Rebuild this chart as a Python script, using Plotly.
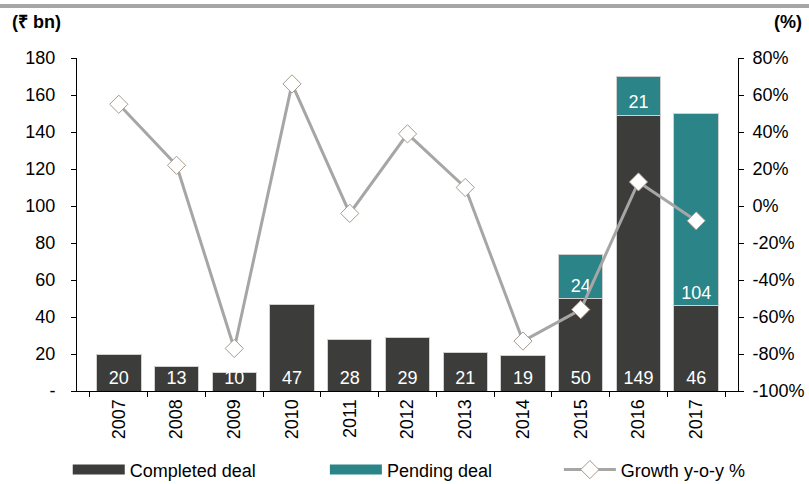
import plotly.graph_objects as go

years = ["2007", "2008", "2009", "2010", "2011", "2012", "2013", "2014", "2015", "2016", "2017"]
completed = [20, 13, 10, 47, 28, 29, 21, 19, 50, 149, 46]
pending = [None, None, None, None, None, None, None, None, 24, 21, 104]
growth = [55, 22, -77, 66, -4, 39, 10, -73, -56, 13, -8]

left_ticks = [0, 20, 40, 60, 80, 100, 120, 140, 160, 180]
left_labels = ["-"] + [str(v) for v in left_ticks[1:]]
right_ticks = [-100, -80, -60, -40, -20, 0, 20, 40, 60, 80]
right_labels = [f"{v}%" for v in right_ticks]

DARK = "#3C3C3B"
TEAL = "#2A8488"
LINE = "#A6A6A6"
FONT = "Liberation Sans, Arial, sans-serif"

fig = go.Figure()
fig.add_trace(go.Bar(
    x=years, y=completed, name="Completed deal", marker_color=DARK,
    marker_line=dict(color="#D0D0D0", width=1),
    text=[str(v) for v in completed], textposition="inside",
    insidetextanchor="start", textangle=0, constraintext="none",
    textfont=dict(color="white", size=18), showlegend=False,
))
fig.add_trace(go.Bar(
    x=years, y=pending, name="Pending deal", marker_color=TEAL,
    marker_line=dict(color="#D0D0D0", width=1),
    text=[str(v) if v else "" for v in pending], textposition="inside",
    insidetextanchor="start", textangle=0, constraintext="none",
    textfont=dict(color="white", size=18), showlegend=False,
))
fig.add_trace(go.Scatter(
    x=years, y=growth, yaxis="y2", name="Growth y-o-y %", mode="lines+markers",
    line=dict(color=LINE, width=3),
    marker=dict(symbol="diamond", size=14, color="white", line=dict(color="#A8998A", width=1)),
    legend="legend3",
))
# legend stand-ins for the bar series (wide rectangle symbols)
fig.add_trace(go.Scatter(x=[None], y=[None], mode="lines", name="Completed deal",
                         line=dict(color=DARK, width=10), legend="legend"))
fig.add_trace(go.Scatter(x=[None], y=[None], mode="lines", name="Pending deal",
                         line=dict(color=TEAL, width=10), legend="legend2"))

leg = dict(orientation="h", yanchor="middle", xanchor="left", y=-0.237,
           font=dict(size=18, color="black"), itemwidth=52,
           bgcolor="rgba(0,0,0,0)")

fig.update_layout(
    width=809, height=484,
    margin=dict(l=77, r=71, t=58, b=93, autoexpand=False),
    paper_bgcolor="white", plot_bgcolor="white",
    font=dict(family=FONT, size=18, color="black"),
    barmode="stack", bargap=0.23,
    xaxis=dict(type="category", tickangle=-90, showline=True, linecolor="black",
               ticks="outside", ticklen=5, tickson="boundaries", tickcolor="black",
               showgrid=False, automargin=False),
    yaxis=dict(range=[0, 180], tickvals=left_ticks, ticktext=left_labels,
               showline=True, linecolor="black", ticks="outside", ticklen=5,
               tickcolor="black", showgrid=False, zeroline=False, automargin=False,
               ticklabelstandoff=12),
    yaxis2=dict(range=[-100, 80], tickvals=right_ticks, ticktext=right_labels,
                overlaying="y", side="right", showline=True, linecolor="black",
                ticks="outside", ticklen=5, tickcolor="black", showgrid=False,
                zeroline=False, automargin=False, ticklabelstandoff=5),
    legend=dict(leg, x=-0.014),
    legend2=dict(leg, x=0.375),
    legend3=dict(leg, x=0.729),
    shapes=[dict(type="line", xref="paper", yref="paper", x0=-0.2, x1=1.2,
                 y0=1.156, y1=1.156, line=dict(color="#A6A6A6", width=4))],
    annotations=[
        dict(text="<b>(₹ bn)</b>", xref="paper", yref="paper", x=-0.1015, y=1.108,
             xanchor="left", yanchor="middle", showarrow=False, font=dict(size=18)),
        dict(text="<b>(%)</b>", xref="paper", yref="paper", x=1.1, y=1.108,
             xanchor="right", yanchor="middle", showarrow=False, font=dict(size=18)),
    ],
)

fig.write_html("out.html", config={"displayModeBar": False},
               post_script="document.body.style.margin='0';")
